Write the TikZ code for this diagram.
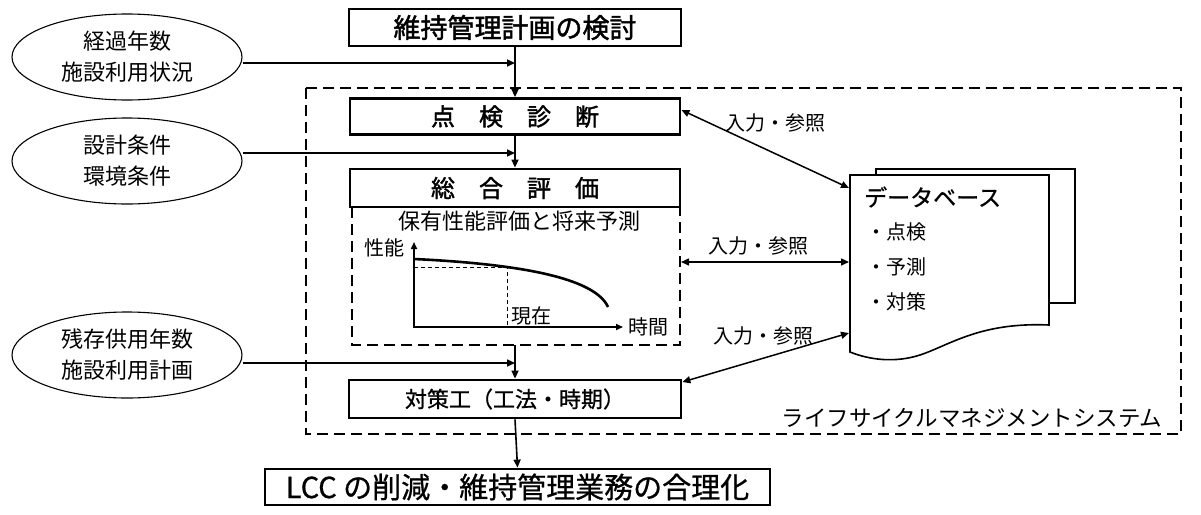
\documentclass[tikz,border=0pt]{standalone}
\usepackage{fontspec}
\setmainfont{Noto Sans CJK JP}
\newfontfamily\jpbold{Noto Sans CJK JP}[FakeBold=1.6]
\newfontfamily\jpmid{Noto Sans CJK JP}[FakeBold=0.8]
\usetikzlibrary{arrows.meta,shapes.geometric}
\tikzset{
  tip/.tip={Triangle[length=8pt,width=7pt]},
  conn/.style={line width=1.6pt,-tip},
  dconn/.style={line width=1.5pt,tip-tip},
  box/.style={draw,line width=2.8pt,inner sep=0,minimum height=36pt,fill=white},
  ell/.style={draw,ellipse,line width=1.1pt,inner sep=0,minimum width=230pt,minimum height=86pt,align=center,font=\fontsize{22}{31}\selectfont},
  frame/.style={draw,line width=2.2pt,dash pattern=on 11pt off 6pt},
  lab/.style={font=\fontsize{20}{20}\selectfont,inner sep=0},
}
\begin{document}
\begin{tikzpicture}[x=1pt,y=-1pt]
\useasboundingbox[fill=white] (0,0) rectangle (1201,514);

% outer frame
\draw[frame] (306,88) rectangle (1181,434);
\node[font=\fontsize{22.5}{22.5}\selectfont,inner sep=0] (sys) at (972,418) {ライフサイクルマネジメントシステム};

% inner dashed frame
\draw[frame] (352,207) -- (352,345) -- (680,345) -- (680,207);

% main boxes
\node[box,minimum width=332pt,minimum height=37pt,font=\fontsize{27}{27}\jpbold] (plan) at (515,27.5) {維持管理計画の検討};
\node[box,minimum width=330pt,font=\fontsize{24}{24}\jpbold] (insp) at (515,116.5) {点\quad 検\quad 診\quad 断};
\node[box,minimum width=330pt,minimum height=38pt,font=\fontsize{24}{24}\jpbold] (eval) at (515,188) {総\quad 合\quad 評\quad 価};
\node[box,minimum width=332pt,minimum height=38pt,font=\fontsize{22}{22}\jpmid] (meas) at (515,399) {対策工（工法・時期）};
\node[box,minimum width=505pt,minimum height=36pt,font=\fontsize{29}{29}\jpmid] (lcc) at (517.5,487) {LCC の削減・維持管理業務の合理化};

% ellipses
\node[ell] (e1) at (127,57) {経過年数\\施設利用状況};
\node[ell] (e2) at (127,161) {設計条件\\環境条件};
\node[ell] (e3) at (127,355) {残存供用年数\\施設利用計画};

% junctions
\coordinate (j1) at (515,63);
\coordinate (j2) at (515,153);
\coordinate (j3) at (515,363);
\coordinate (pb) at (515,345);

\draw[conn] (e1.east |- j1) -- (j1);
\draw[conn] (e2.east |- j2) -- (j2);
\draw[conn] (e3.east |- j3) -- (j3);

\draw[conn] (plan.south) -- (insp.north);
\draw[conn] (insp.south) -- (eval.north);
\draw[conn] (pb) -- (meas.north);
\draw[conn] (meas.south) -- (lcc.north);

% graph
\node[font=\fontsize{22}{22}\selectfont,inner sep=0] (ptitle) at (519,221) {保有性能評価と将来予測};
\coordinate (O) at (414,327);
\coordinate (ytop) at (414,242);
\coordinate (xend) at (623,327);
\draw[line width=1.6pt,{Triangle[length=7pt,width=6pt]}-{Triangle[length=7pt,width=6pt]}] (ytop) -- (O) -- (xend);
\draw[line width=0.8pt,dash pattern=on 4pt off 3pt] (414,267) -- (507,267) -- (507,327);
\draw[line width=2.6pt] (414,259) .. controls (520,264) and (595,278) .. (608,307);
\node[lab] (perf) at (384,248) {性能};
\node[lab] (time) at (648,327) {時間};
\node[lab] (now) at (531,316) {現在};

% database
\draw[line width=1.6pt,fill=white] (876,169) rectangle (1075,303);
\draw[line width=1.6pt,fill=white] (850,175) -- (1049,175) -- (1049,325)
  .. controls (980,322) and (950,345) .. (920,355)
  .. controls (895,363) and (870,360) .. (850,352) -- cycle;
\node[anchor=west,font=\fontsize{23}{23}\jpmid,inner sep=0] (dbt) at (864,197) {データベース};
\node[anchor=west,lab] (b1) at (866,232) {・点検};
\node[anchor=west,lab] (b2) at (866,267) {・予測};
\node[anchor=west,lab] (b3) at (866,302) {・対策};

\coordinate (d1) at (849,188);
\coordinate (d2) at (849,262);
\coordinate (d3) at (849,333);
\coordinate (p2) at (681,262);

\draw[dconn] (insp.east |- 0,110) -- (d1);
\draw[dconn] (p2) -- (d2);
\draw[dconn] (meas.north east |- 0,382) -- (d3);

\node[lab] (l1) at (775,123) {入力・参照};
\node[lab] (l2) at (758,246) {入力・参照};
\node[lab] (l3) at (763,336) {入力・参照};
\end{tikzpicture}
\end{document}
